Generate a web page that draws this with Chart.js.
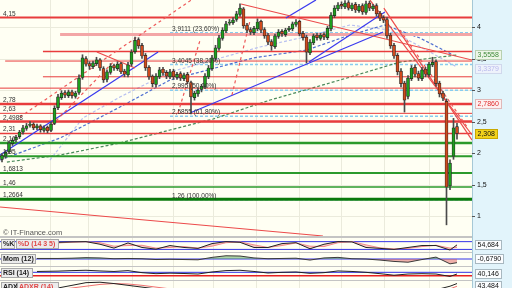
<!DOCTYPE html>
<html>
<head>
<meta charset="utf-8">
<title>IT-Finance</title>
<script src="https://cdn.jsdelivr.net/npm/chart.js@4.4.1/dist/chart.umd.min.js"></script>
<style>
  html, body { margin: 0; padding: 0; background: #fffff3; }
  body { width: 512px; height: 288px; overflow: hidden; position: relative; }
  canvas { position: absolute; left: 0; }
</style>
</head>
<body>
<canvas id="mainChart" width="512" height="237" style="top:0px"></canvas>
<canvas id="stochChart" width="512" height="15" style="top:237px"></canvas>
<canvas id="momChart" width="512" height="14" style="top:252px"></canvas>
<canvas id="rsiChart" width="512" height="14" style="top:266px"></canvas>
<canvas id="adxChart" width="512" height="8" style="top:280px"></canvas>
<script>
// Cours journaliers (open / high / low / close), une bougie par séance
const opens = [
  1.90, 1.95, 2.02, 2.15, 2.21, 2.26, 2.33, 2.39, 2.44, 2.46,
  2.40, 2.43, 2.36, 2.41, 2.36, 2.47, 2.72, 2.88, 2.96, 2.91,
  2.97, 2.90, 2.96, 3.20, 3.50, 3.42, 3.37, 3.42, 3.48, 3.34,
  3.17, 3.28, 3.39, 3.34, 3.42, 3.30, 3.24, 3.41, 3.61, 3.80,
  3.71, 3.55, 3.36, 3.22, 3.09, 3.21, 3.33, 3.28, 3.21, 3.30,
  3.20, 3.26, 3.18, 3.25, 3.12, 2.88, 2.94, 3.01, 3.05, 3.21,
  3.34, 3.50, 3.66, 3.82, 3.94, 4.06, 4.07, 4.12, 4.20, 4.29,
  4.03, 3.96, 3.91, 3.97, 4.09, 3.96, 3.87, 3.77, 3.69, 3.85,
  3.93, 3.88, 3.96, 3.97, 4.04, 4.09, 3.90, 3.84, 3.59, 3.75,
  3.87, 3.82, 3.88, 3.83, 3.97, 4.18, 4.29, 4.36, 4.32, 4.39,
  4.29, 4.36, 4.26, 4.34, 4.23, 4.38, 4.29, 4.34, 4.22, 4.15,
  4.12, 3.87, 3.71, 3.55, 3.30, 3.11, 2.90, 3.18, 3.36, 3.26,
  3.18, 3.33, 3.24, 3.40, 3.45, 3.11, 2.95, 2.82, 1.48, 1.95,
  2.42
];
const highs = [
  1.99, 2.04, 2.19, 2.23, 2.28, 2.36, 2.44, 2.47, 2.50, 2.48,
  2.46, 2.45, 2.43, 2.43, 2.49, 2.75, 2.93, 2.99, 2.99, 3.00,
  3.00, 2.98, 3.24, 3.56, 3.53, 3.45, 3.46, 3.52, 3.50, 3.37,
  3.32, 3.42, 3.41, 3.45, 3.44, 3.33, 3.44, 3.64, 3.84, 3.83,
  3.74, 3.58, 3.39, 3.24, 3.26, 3.36, 3.36, 3.31, 3.33, 3.33,
  3.28, 3.29, 3.27, 3.28, 3.14, 2.98, 3.03, 3.09, 3.26, 3.39,
  3.55, 3.71, 3.87, 3.99, 4.09, 4.12, 4.15, 4.25, 4.37, 4.31,
  4.06, 3.99, 4.01, 4.13, 4.11, 3.99, 3.90, 3.80, 3.89, 3.96,
  3.96, 3.98, 4.01, 4.08, 4.12, 4.11, 3.93, 3.87, 3.80, 3.89,
  3.90, 3.90, 3.91, 4.01, 4.23, 4.34, 4.39, 4.40, 4.42, 4.42,
  4.38, 4.39, 4.36, 4.37, 4.41, 4.41, 4.36, 4.37, 4.25, 4.18,
  4.15, 3.90, 3.74, 3.58, 3.34, 3.14, 3.23, 3.39, 3.40, 3.30,
  3.36, 3.36, 3.44, 3.52, 3.48, 3.14, 2.98, 2.86, 1.89, 2.55,
  2.47
];
const lows = [
  1.86, 1.92, 1.99, 2.12, 2.18, 2.23, 2.30, 2.36, 2.41, 2.37,
  2.37, 2.33, 2.33, 2.32, 2.34, 2.45, 2.69, 2.85, 2.88, 2.88,
  2.87, 2.87, 2.93, 3.17, 3.38, 3.33, 3.34, 3.39, 3.31, 3.12,
  3.13, 3.25, 3.31, 3.31, 3.26, 3.21, 3.21, 3.38, 3.58, 3.66,
  3.50, 3.31, 3.17, 3.05, 3.05, 3.18, 3.23, 3.18, 3.18, 3.17,
  3.17, 3.15, 3.15, 3.10, 2.62, 2.84, 2.90, 2.97, 3.02, 3.18,
  3.31, 3.47, 3.63, 3.79, 3.91, 4.03, 4.04, 4.09, 4.17, 3.98,
  3.91, 3.88, 3.88, 3.94, 3.91, 3.82, 3.72, 3.63, 3.66, 3.82,
  3.85, 3.85, 3.93, 3.94, 4.01, 3.86, 3.79, 3.43, 3.56, 3.72,
  3.79, 3.79, 3.80, 3.80, 3.94, 4.15, 4.26, 4.29, 4.29, 4.27,
  4.26, 4.23, 4.23, 4.20, 4.20, 4.26, 4.26, 4.17, 4.10, 4.07,
  3.82, 3.66, 3.50, 3.24, 3.05, 2.65, 2.86, 3.15, 3.21, 3.15,
  3.15, 3.21, 3.21, 3.37, 3.06, 2.89, 2.83, 0.86, 1.42, 1.90,
  2.22
];
const closes = [
  1.96, 2.01, 2.16, 2.20, 2.25, 2.33, 2.40, 2.43, 2.46, 2.40,
  2.43, 2.37, 2.40, 2.35, 2.46, 2.71, 2.89, 2.95, 2.92, 2.97,
  2.91, 2.95, 3.19, 3.51, 3.41, 3.38, 3.43, 3.48, 3.35, 3.16,
  3.29, 3.38, 3.35, 3.41, 3.29, 3.25, 3.40, 3.60, 3.79, 3.70,
  3.54, 3.35, 3.21, 3.10, 3.22, 3.32, 3.27, 3.22, 3.29, 3.21,
  3.25, 3.19, 3.24, 3.13, 2.89, 2.95, 3.00, 3.06, 3.22, 3.35,
  3.51, 3.67, 3.83, 3.95, 4.05, 4.08, 4.11, 4.21, 4.30, 4.02,
  3.95, 3.92, 3.98, 4.08, 3.95, 3.86, 3.76, 3.70, 3.86, 3.92,
  3.89, 3.95, 3.98, 4.05, 4.08, 3.89, 3.83, 3.60, 3.76, 3.86,
  3.83, 3.87, 3.84, 3.98, 4.19, 4.30, 4.35, 4.33, 4.38, 4.30,
  4.35, 4.27, 4.33, 4.24, 4.37, 4.30, 4.33, 4.21, 4.14, 4.11,
  3.86, 3.70, 3.54, 3.29, 3.10, 2.84, 3.19, 3.35, 3.25, 3.19,
  3.32, 3.25, 3.41, 3.44, 3.10, 2.94, 2.87, 1.46, 1.84, 2.40,
  2.31
];

// Axe des prix et séparations mensuelles (en index de séance)
const yTicks = [1, 1.5, 2, 2.5, 3, 3.5, 4];
const monthTicks = [13.7, 24.6, 37.1, 48.9, 60.3, 72.6, 84.9, 96.9, 109.1, 122];

// Supports / résistances horizontaux
const redLevels = [4.15, 3.88, 3.61, 3.46, 3.21, 3.03, 2.78, 2.63, 2.4988, 2.31];
const redLevelFrom = [-1, 16.6, 11.7, 0.9, 11.7, -1, -1, -1, -1, -1];
const redLabeled = [4.15, 2.78, 2.63, 2.4988, 2.31];
const greenLevels = [2.16, 1.95, 1.6813, 1.46, 1.2664];

// Retracements de Fibonacci
const fibLevels = [3.9111, 3.4045, 2.995, 2.5855, 1.26];
const fibPct = ['23,60%', '38,20%', '50,00%', '61,80%', '100,00%'];
const fibFrom = 48;

// Droites de tendance [x1, y1, x2, y2]
const redTrends = [[68.3, 4.365, 134.3, 3.476], [105.1, 4.43, 134.3, 2.286], [109.1, 4.30, 134.3, 2.206], [27.1, 3.603, 38.0, 3.349], [-0.57, 1.143, 91.7, 0.683]];
const redDashed = [[5.1, 2.571, 56.6, 4.524], [14.3, 2.444, 32.3, 3.476], [50.3, 2.635, 56.6, 3.794], [65.7, 2.921, 70.9, 4.111], [113.7, 3.952, 133.1, 2.397]];
const blueTrends = [[-0.57, 1.968, 44.6, 3.603], [53.7, 2.635, 108.9, 3.921], [87.7, 3.444, 109.4, 4.238], [81.1, 4.143, 89.7, 4.43]];

// Moyennes mobiles (pointillés)
const maBlueIdx = [-0.57, 16.6, 33.7, 48, 71.7, 87.1, 99.4, 109.4, 119.4, 128.9];
const maBlueVal = [1.889, 2.238, 2.73, 3.159, 3.508, 3.635, 3.873, 4.032, 3.825, 3.556];
const maLavIdx = [13.7, 23.1, 33.7, 48, 73.7, 85.1, 99.4, 110.9, 130];
const maLavVal = [1.889, 2.556, 2.889, 3.286, 3.683, 3.825, 4.032, 3.952, 3.365];
const maGreenIdx = [1.4, 16.6, 33.7, 48, 60.3, 76.6, 96.6, 113.7, 130];
const maGreenVal = [1.857, 1.968, 2.159, 2.365, 2.54, 2.841, 3.159, 3.444, 3.556];

// Étiquettes de droite
const priceTags = [3.5558, 3.3379, 2.786, 2.308];
const priceTagDigits = [4, 4, 4, 3];

// Indicateurs
const subIdx = [10, 16, 20, 24, 28, 32, 36, 40, 44, 48, 52, 56, 60, 64, 68, 72, 76, 80, 84, 88, 92, 96, 100, 104, 108, 112, 116, 120, 124, 128, 130];
const stochK = [null, 75, 78, 80, 60, 30, 70, 35, 22, 50, 35, 28, 65, 80, 75, 35, 35, 65, 72, 25, 60, 80, 78, 35, 28, 20, 35, 50, 50, 15, 55];
const stochD = [null, 70, 76, 79, 72, 45, 50, 52, 30, 35, 42, 30, 45, 72, 78, 55, 35, 50, 70, 45, 42, 72, 80, 55, 32, 24, 28, 42, 52, 30, 35];
const mom = [0.1, 0.1, 0.15, 0.25, 0.2, 0.05, 0.1, 0.05, -0.1, -0.05, -0.1, -0.15, 0.3, 0.6, 0.55, 0.2, 0.05, 0.1, 0.15, -0.2, 0.2, 0.3, 0.05, 0, -0.2, -0.45, -0.6, -0.1, 0.35, -0.9, -0.68];
const rsi = [55, 57, 60, 62, 58, 55, 60, 48, 42, 45, 43, 40, 52, 60, 62, 55, 46, 50, 52, 44, 48, 58, 55, 50, 42, 33, 40, 42, 40, 26, 40];
const adx = [30, 34, 40, 46, 47, 44, 40, 36, 32, 28, 25, 22, 20, 24, 30, 32, 30, 26, 24, 22, 20, 22, 26, 28, 27, 26, 25, 26, 30, 38, 44];
const adxr = [28, 30, 34, 38, 42, 44, 43, 40, 36, 32, 29, 26, 23, 22, 25, 28, 30, 29, 27, 25, 23, 22, 23, 25, 26, 26, 26, 26, 27, 32, 38];
const lastValues = { stoch: 54.684, mom: -0.679, rsi: 40.146, adx: 43.484 };

const xMin = -0.571, xMax = 134.286;
const FONT = '"Liberation Sans", Arial, sans-serif';
const fmt = (v, d) => (d === undefined ? String(v) : v.toFixed(d)).replace('.', ',');

const seg = (pts, color, width, dash, order) => ({
  type: 'line', data: pts, borderColor: color, borderWidth: width, borderDash: dash || [],
  pointRadius: 0, fill: false, tension: 0, order: order
});
const curve = (idx, vals) => idx.map((x, i) => ({ x: x, y: vals[i] }));
const subPts = vals => subIdx.map((x, i) => ({ x: x, y: vals[i] }));

function tag(ctx, x, y, text, bg, fg, border) {
  ctx.font = '7px ' + FONT;
  const w = Math.ceil(ctx.measureText(text).width) + 5;
  ctx.fillStyle = bg;
  ctx.fillRect(x, Math.round(y) - 5, w, 10);
  ctx.strokeStyle = border;
  ctx.lineWidth = 1;
  ctx.strokeRect(x + 0.5, Math.round(y) - 4.5, w - 1, 9);
  ctx.fillStyle = fg;
  ctx.textBaseline = 'middle';
  ctx.textAlign = 'left';
  ctx.fillText(text, x + 2.5, Math.round(y) + 0.5);
}

function labelBox(ctx, x, y, w, h, text, fg) {
  ctx.fillStyle = '#ececec';
  ctx.fillRect(x, y, w, h);
  ctx.strokeStyle = '#a8a8a8';
  ctx.strokeRect(x + 0.5, y + 0.5, w - 1, h - 1);
  ctx.fillStyle = fg;
  ctx.font = 'bold 7px ' + FONT;
  ctx.textBaseline = 'middle';
  ctx.fillText(text, x + 2, y + h / 2 + 0.5);
}

// Décor spécifique à chaque panneau
const decorators = {
  mainChart(chart) {
    const { ctx, chartArea: a, scales: { x, y } } = chart;
    ctx.fillStyle = '#333';
    ctx.font = '6.5px ' + FONT;
    ctx.textBaseline = 'alphabetic';
    ctx.textAlign = 'left';
    redLabeled.concat(greenLevels).forEach(v => {
      ctx.fillText(fmt(v), 3, y.getPixelForValue(v) - 2);
    });
    fibLevels.forEach((v, i) => {
      ctx.fillText(fmt(v) + ' (' + fibPct[i] + ')', x.getPixelForValue(fibFrom) + 2, y.getPixelForValue(v) - 2);
    });
    ctx.fillStyle = '#555';
    ctx.font = '7.5px ' + FONT;
    ctx.fillText('\u00a9 IT-Finance.com', 3, 235);
    // axe de droite
    ctx.font = '7px ' + FONT;
    ctx.textBaseline = 'middle';
    yTicks.forEach(v => {
      const py = Math.round(y.getPixelForValue(v)) + 0.5;
      ctx.strokeStyle = '#555';
      ctx.beginPath(); ctx.moveTo(a.right, py); ctx.lineTo(a.right + 3, py); ctx.stroke();
      ctx.fillStyle = '#111';
      ctx.fillText(fmt(v), a.right + 5, py);
    });
    const tagStyles = [
      ['#eef6e8', '#3f8a3a', '#b8d0b0'],
      ['#eef2fb', '#b8b8ec', '#d0d8ec'],
      ['#fdf0f0', '#e02c2c', '#e0b8b8'],
      ['#f2d21a', '#111', '#c8a800']
    ];
    priceTags.forEach((v, i) => {
      const s = tagStyles[i];
      tag(ctx, a.right + 3, y.getPixelForValue(v), fmt(v, priceTagDigits[i]), s[0], s[1], s[2]);
    });
    ctx.strokeStyle = '#c4c4c4';
    ctx.beginPath(); ctx.moveTo(0, a.bottom - 0.5); ctx.lineTo(a.right, a.bottom - 0.5); ctx.stroke();
  },
  stochChart(chart) {
    const { ctx, chartArea: a, scales: { y } } = chart;
    labelBox(ctx, 1, 2, 14, 10, '%K', '#222');
    labelBox(ctx, 16, 2, 43, 10, '%D (14 3 5)', '#e04848');
    tag(ctx, a.right + 3, y.getPixelForValue(lastValues.stoch), fmt(lastValues.stoch, 3), '#fbfdff', '#111', '#a8b8c0');
  },
  momChart(chart) {
    const { ctx, chartArea: a } = chart;
    labelBox(ctx, 1, 2, 35, 10, 'Mom (12)', '#222');
    tag(ctx, a.right + 3, 7, fmt(lastValues.mom, 4), '#fbfdff', '#111', '#a8b8c0');
  },
  rsiChart(chart) {
    const { ctx, chartArea: a, scales: { y } } = chart;
    labelBox(ctx, 1, 2, 32, 10, 'RSI (14)', '#222');
    tag(ctx, a.right + 3, y.getPixelForValue(lastValues.rsi), fmt(lastValues.rsi, 3), '#fbfdff', '#111', '#a8b8c0');
  },
  adxChart(chart) {
    const { ctx, chartArea: a } = chart;
    labelBox(ctx, 1, 2, 16, 10, 'ADX', '#222');
    labelBox(ctx, 17, 2, 42, 10, 'ADXR (14)', '#e04848');
    tag(ctx, a.right + 3, 6, fmt(lastValues.adx, 3), '#fbfdff', '#111', '#a8b8c0');
  }
};

const frame = {
  id: 'frame',
  beforeDatasetsDraw(chart) {
    const { ctx, chartArea: a, scales: { x, y } } = chart;
    ctx.save();
    ctx.fillStyle = '#fffff3';
    ctx.fillRect(a.left, a.top, a.right - a.left, a.bottom - a.top);
    ctx.strokeStyle = '#ebebdc';
    ctx.lineWidth = 1;
    monthTicks.forEach(m => {
      const px = Math.round(x.getPixelForValue(m)) + 0.5;
      ctx.beginPath(); ctx.moveTo(px, a.top); ctx.lineTo(px, a.bottom); ctx.stroke();
    });
    if (chart.canvas.id === 'mainChart') {
      yTicks.forEach(v => {
        const py = Math.round(y.getPixelForValue(v)) + 0.5;
        ctx.beginPath(); ctx.moveTo(a.left, py); ctx.lineTo(a.right, py); ctx.stroke();
      });
    }
    ctx.restore();
  },
  afterDraw(chart) {
    const { ctx, chartArea: a, width, height } = chart;
    ctx.save();
    ctx.fillStyle = '#e2f4fb';
    ctx.fillRect(a.right, 0, width - a.right, height);
    ctx.strokeStyle = '#a6c8d6';
    ctx.lineWidth = 1;
    ctx.beginPath(); ctx.moveTo(a.right + 0.5, 0); ctx.lineTo(a.right + 0.5, height); ctx.stroke();
    if (chart.canvas.id !== 'mainChart') {
      ctx.strokeStyle = '#c4c4c4';
      ctx.beginPath(); ctx.moveTo(0, 0.5); ctx.lineTo(a.right, 0.5); ctx.stroke();
    }
    decorators[chart.canvas.id](chart);
    ctx.restore();
  }
};

function baseOptions(yMin, yMax) {
  return {
    responsive: false,
    animation: false,
    events: [],
    layout: { padding: { left: 0, right: 40, top: 0, bottom: 0 } },
    plugins: { legend: { display: false }, tooltip: { enabled: false } },
    scales: {
      x: { type: 'linear', min: xMin, max: xMax, display: false, offset: false },
      y: { type: 'linear', min: yMin, max: yMax, display: false }
    }
  };
}

// ---- graphique principal ----
const mainSets = [];
mainSets.push({
  type: 'bar', order: 0, grouped: false,
  data: opens.map((o, i) => ({ x: i, y: [o, closes[i]] })),
  backgroundColor: closes.map((c, i) => c >= opens[i] ? '#1e9e1e' : '#d04a1c'),
  borderColor: '#262626', borderWidth: 0.7, borderSkipped: false, barThickness: 3
});
mainSets.push({
  type: 'bar', order: 1, grouped: false,
  data: lows.map((l, i) => ({ x: i, y: [l, highs[i]] })),
  backgroundColor: '#4a4a4a', borderWidth: 0, barThickness: 1
});

const redWidths = [2, 3, 1.5, 1, 1, 1, 2.5, 1, 2.5, 1.5];
redLevels.forEach((v, i) => {
  const col = i === 1 ? '#f3a6a6' : '#e83c3c';
  mainSets.push(seg([{ x: redLevelFrom[i], y: v }, { x: xMax, y: v }], col, redWidths[i], null, 4));
});
const greenWidths = [2.5, 2, 2, 1.5, 3];
greenLevels.forEach((v, i) => {
  const col = i === 4 ? '#0b7a0b' : '#2b9a2b';
  mainSets.push(seg([{ x: -1, y: v }, { x: xMax, y: v }], col, greenWidths[i], null, 3));
});
fibLevels.forEach(v => {
  mainSets.push(seg([{ x: fibFrom, y: v }, { x: xMax, y: v }], '#88ccef', 1.5, [3, 2], 6));
});
redTrends.forEach(t => mainSets.push(seg([{ x: t[0], y: t[1] }, { x: t[2], y: t[3] }], '#ec4a4a', 1.2, null, 2)));
redDashed.forEach(t => mainSets.push(seg([{ x: t[0], y: t[1] }, { x: t[2], y: t[3] }], '#ee5a5a', 1.2, [3, 3], 2)));
blueTrends.forEach(t => mainSets.push(seg([{ x: t[0], y: t[1] }, { x: t[2], y: t[3] }], '#3a3aee', 1.2, null, 2)));
mainSets.push(seg(curve(maBlueIdx, maBlueVal), '#4f6fd0', 1.2, [3, 2], 5));
mainSets.push(seg(curve(maLavIdx, maLavVal), '#b8c0f0', 1.2, [3, 2], 5));
mainSets.push(seg(curve(maGreenIdx, maGreenVal), '#4a8a5a', 1.2, [3, 2], 5));

new Chart(document.getElementById('mainChart'), {
  type: 'bar',
  data: { datasets: mainSets },
  options: baseOptions(0.667, 4.429),
  plugins: [frame]
});

// ---- stochastique ----
new Chart(document.getElementById('stochChart'), {
  type: 'line',
  data: { datasets: [
    seg([{ x: xMin, y: 80 }, { x: xMax, y: 80 }], '#3434e6', 1, null, 3),
    seg([{ x: xMin, y: 20 }, { x: xMax, y: 20 }], '#3434e6', 1, null, 3),
    seg(subPts(stochK), '#222', 1, null, 1),
    Object.assign(seg(subPts(stochD), '#f08a8a', 1, null, 2), { fill: '-1', backgroundColor: 'rgba(240,140,140,0.45)' })
  ] },
  options: baseOptions(0, 116),
  plugins: [frame]
});

// ---- momentum ----
new Chart(document.getElementById('momChart'), {
  type: 'line',
  data: { datasets: [
    seg([{ x: xMin, y: 0 }, { x: xMax, y: 0 }], '#3434e6', 1, null, 3),
    Object.assign(seg(subPts(mom), '#3a3a3a', 1, null, 1), {
      fill: { target: { value: 0 }, above: 'rgba(70,160,70,0.45)', below: 'rgba(220,80,80,0.45)' }
    })
  ] },
  options: baseOptions(-1.3, 1.3),
  plugins: [frame]
});

// ---- RSI ----
new Chart(document.getElementById('rsiChart'), {
  type: 'line',
  data: { datasets: [
    seg([{ x: xMin, y: 50 }, { x: xMax, y: 50 }], '#3434e6', 1, null, 3),
    seg([{ x: xMin, y: 30 }, { x: xMax, y: 30 }], '#e82020', 1.5, null, 3),
    seg(subPts(rsi), '#222', 1, null, 1)
  ] },
  options: baseOptions(5, 87),
  plugins: [frame]
});

// ---- ADX ----
new Chart(document.getElementById('adxChart'), {
  type: 'line',
  data: { datasets: [
    seg(subPts(adx), '#222', 1, null, 1),
    seg(subPts(adxr), '#f07070', 1, null, 2)
  ] },
  options: baseOptions(34, 52),
  plugins: [frame]
});
</script>
</body>
</html>
